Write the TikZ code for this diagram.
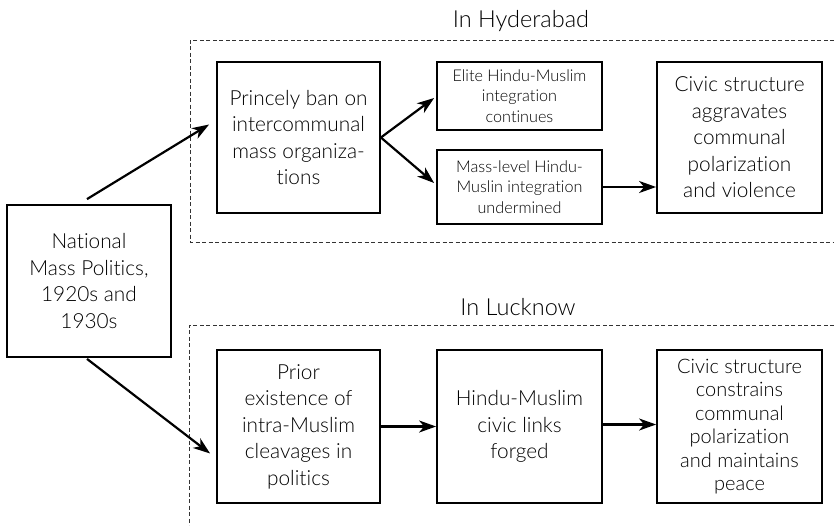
\documentclass[tikz,border=0pt]{standalone}
\usepackage{fontspec}
\setmainfont{Lato Light}[Ligatures={NoCommon}]
\usetikzlibrary{arrows.meta,calc}

\tikzset{
  bigbox/.style={draw, line width=1.8pt, align=center, inner sep=2pt,
    font=\fontsize{20.8}{26.5}\selectfont},
  smallbox/.style={draw, line width=1.8pt, align=center, inner sep=2pt,
    font=\fontsize{16.2}{20.5}\selectfont},
  frame/.style={line width=0.9pt, draw=black!80, dash pattern=on 4pt off 2.5pt},
  region/.style={font=\fontsize{23.5}{26}\selectfont},
  flow/.style={line width=2.2pt, -{Stealth[length=17pt,width=12pt,inset=5pt]}}
}

\begin{document}
\begin{tikzpicture}[x=1pt, y=-1pt]
  \useasboundingbox (0,0) rectangle (834,525);

  % dashed frames for the two cities (open to the right / bottom)
  \draw[frame] (834,40) -- (190,40) -- (190,242) -- (834,242);
  \draw[frame] (834,325) -- (189,325) -- (189,525);
  \node[region] (hyd) at (521,21) {In Hyderabad};
  \node[region] (luc) at (518,307) {In Lucknow};

  % national starting point
  \node[bigbox, minimum width=164pt, minimum height=152pt] (nat) at (89,281)
    {National\\Mass Politics,\\1920s and\\1930s};

  % Hyderabad path
  \node[bigbox, minimum width=163pt, minimum height=151pt] (ban) at (298.5,137.5)
    {Princely ban on\\intercommunal\\mass organiza-\\tions};
  \node[smallbox, minimum width=165pt, minimum height=68pt] (elite) at (519.5,96)
    {Elite Hindu-Muslim\\integration\\continues};
  \node[smallbox, minimum width=165pt, minimum height=74pt] (mass) at (519.5,187)
    {Mass-level Hindu-\\Muslin integration\\undermined};
  \node[bigbox, minimum width=165pt, minimum height=151pt] (aggr) at (739.5,137.5)
    {Civic structure\\aggravates\\communal\\polarization\\and violence};

  % Lucknow path
  \node[bigbox, minimum width=163pt, minimum height=153pt] (prior) at (298.5,426.5)
    {Prior\\existence of\\intra-Muslim\\cleavages in\\politics};
  \node[bigbox, minimum width=165pt, minimum height=153pt] (links) at (519.5,426.5)
    {Hindu-Muslim\\civic links\\forged};
  \node[bigbox, minimum width=165pt, minimum height=153pt,
        font=\fontsize{20}{23.5}\selectfont] (cons) at (739.5,426.5)
    {Civic structure\\constrains\\communal\\polarization\\and maintains\\peace};

  % connectors
  \draw[flow] ($(nat.north)+(-2,-5)$) -- ($(ban.west)+(-7,-13)$);
  \draw[flow] ($(nat.south)+(-2,1)$) -- ($(prior.west)+(-6,27)$);
  \draw[flow] (ban.east) -- ($(elite.west)+(-2,2)$);
  \draw[flow] (ban.east) -- ($(mass.west)+(-2,-4)$);
  \draw[flow] (mass.east) -- (mass.east -| aggr.west);
  \draw[flow] (prior.east) -- (prior.east -| links.west);
  \draw[flow] ($(links.east)+(0,-2)$) -- ($(cons.west)+(0,-2)$);
\end{tikzpicture}
\end{document}
